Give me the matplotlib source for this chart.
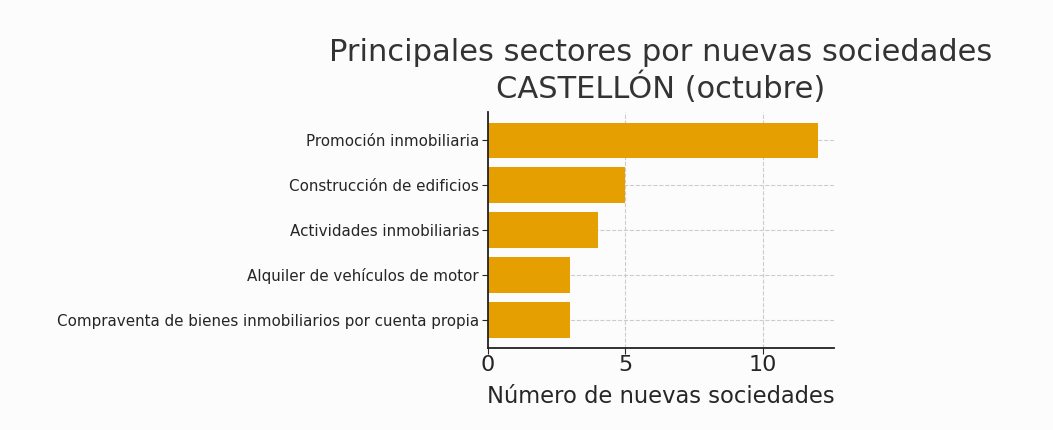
import matplotlib
matplotlib.use("Agg")
import matplotlib.pyplot as plt

# datos
sectores = [
    "Promoción inmobiliaria",
    "Construcción de edificios",
    "Actividades inmobiliarias",
    "Alquiler de vehículos de motor",
    "Compraventa de bienes inmobiliarios por cuenta propia",
]
nuevas = [12, 5, 4, 3, 3]

titulo = "Principales sectores por nuevas sociedades\nCASTELLÓN (octubre)"
etiqueta_x = "Número de nuevas sociedades"

color_barra = "#E69F00"
texto = "#262626"

fig, ax = plt.subplots(figsize=(10.53, 4.30), dpi=100)
fig.patch.set_facecolor("#fcfcfc")
ax.set_facecolor("#fcfcfc")

ax.barh(sectores, nuevas, color=color_barra, height=0.8, zorder=2)
ax.invert_yaxis()

ax.set_title(titulo, fontsize=22, color="#333333", pad=10, linespacing=1.15)
ax.set_xlabel(etiqueta_x, fontsize=16.3, color=texto, labelpad=7)
ax.set_xticks([0, 5, 10])

ax.tick_params(axis="x", labelsize=16, colors=texto, length=4, pad=1)
ax.tick_params(axis="y", labelsize=10.9, colors=texto, length=4, pad=2.5)

ax.grid(True, linestyle="--", color="#cccccc", linewidth=0.8, zorder=0)
ax.set_axisbelow(True)

for s in ["top", "right"]:
    ax.spines[s].set_visible(False)
for s in ["left", "bottom"]:
    ax.spines[s].set_color("#222222")
    ax.spines[s].set_linewidth(1.3)

fig.subplots_adjust(left=0.4635, right=0.792, top=0.74, bottom=0.19)
fig.savefig("out.png", dpi=100, facecolor=fig.get_facecolor())
